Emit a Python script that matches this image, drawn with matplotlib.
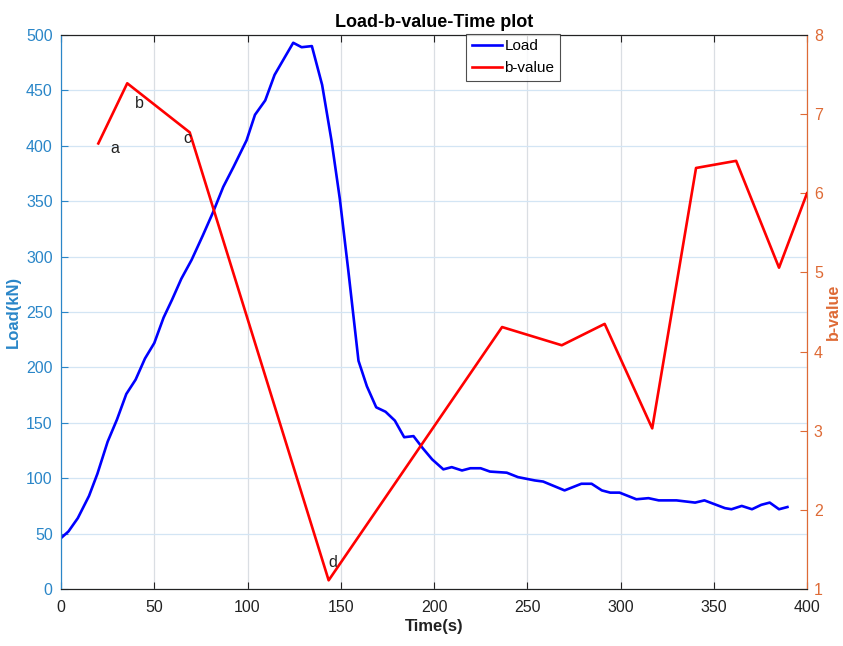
import matplotlib.pyplot as plt

plt.rcParams['font.family'] = ['Liberation Sans', 'DejaVu Sans']

# load curve (kN) over time (s)
load_time = [0, 4, 9, 15, 19.5, 25, 30, 35, 40, 45, 50, 55, 59.5, 64.5, 70, 76, 81.5, 87,
             92.5, 99.5, 104, 109.5, 114.5, 120, 124.5, 129, 134.5, 140, 145, 149.5, 154,
             159.5, 164, 169, 174, 179, 184, 189, 194, 199, 205, 209.5, 215, 219.5, 225,
             230, 239, 245, 254, 258.5, 270, 279, 284.5, 290, 294.5, 299.5, 308.5, 315,
             320.5, 330, 340, 345, 356, 359.5, 365, 370.5, 375.5, 380, 385, 389.5]
load_kn = [46, 52, 64, 84, 104, 133, 153, 176, 189, 208, 222, 245, 261, 280, 297, 319, 340,
           363, 381, 405, 428, 441, 464, 480, 493, 489, 490, 455, 405, 352, 288,
           206, 183, 164, 160, 152, 137, 138, 127, 117, 108, 110, 107, 109, 109,
           106, 105, 101, 98, 97, 89, 95, 95, 89, 87, 87, 81, 82,
           80, 80, 78, 80, 73, 72, 75, 72, 76, 78, 72, 74]

# b-value over time (s)
b_time = [20, 35.5, 69, 143.5, 236.5, 268.5, 291.5, 317, 340.5, 362, 385, 400]
b_value = [6.63, 7.39, 6.77, 1.11, 4.31, 4.08, 4.35, 3.03, 6.32, 6.41, 5.06, 6.0]

# stage labels on the b-value curve
stage_labels = ['a', 'b', 'c', 'd']
stage_x = [29, 42, 68, 145.5]
stage_y = [6.57, 7.13, 6.69, 1.33]

left_color = '#2a86c8'
right_color = '#de6a35'

fig = plt.figure(figsize=(8.43, 6.46), dpi=100)
ax = fig.add_axes([0.0724, 0.0882, 0.8849, 0.8576])
ax2 = ax.twinx()

line_load, = ax.plot(load_time, load_kn, color='#0000ff', linewidth=1.9)
line_b, = ax2.plot(b_time, b_value, color='#ff0000', linewidth=1.9)

ax.set_xlim(0, 400)
ax.set_ylim(0, 500)
ax2.set_ylim(1, 8)
ax.set_xticks(range(0, 401, 50))
ax.set_yticks(range(0, 501, 50))
ax2.set_yticks(range(1, 9))

ax.grid(axis='x', color='#dadee3', linewidth=0.9)
ax.grid(axis='y', color='#d3e5f4', linewidth=0.9)
ax.set_axisbelow(True)

ax.tick_params(axis='x', direction='in', top=True, colors='#222222', labelsize=11.5,
               length=5, pad=8)
ax.tick_params(axis='y', direction='in', colors=left_color, labelsize=11.5, length=5, pad=6)
ax2.tick_params(axis='y', direction='in', colors=right_color, labelsize=11.5, length=5, pad=5)

for a in (ax, ax2):
    a.spines['top'].set_color('#222222')
    a.spines['bottom'].set_color('#222222')
    a.spines['left'].set_color(left_color)
    a.spines['right'].set_color(right_color)

ax.set_xlabel('Time(s)', fontsize=12, fontweight='bold', color='#222222', labelpad=3)
ax.set_ylabel('Load(kN)', fontsize=12, fontweight='bold', color=left_color, labelpad=4)
ax2.set_ylabel('b-value', fontsize=11.5, fontweight='bold', color=right_color, labelpad=2)
ax.set_title('Load-b-value-Time plot', fontsize=13, fontweight='bold', pad=6)

for lab, x, y in zip(stage_labels, stage_x, stage_y):
    ax2.text(x, y, lab, fontsize=11.5, ha='center', va='center', color='#222222')

leg = ax2.legend([line_load, line_b], ['Load', 'b-value'], loc='upper left',
                 bbox_to_anchor=(0.553, 0.948), bbox_transform=fig.transFigure,
                 fontsize=11, frameon=True, fancybox=False, handlelength=2.0,
                 handletextpad=0.15, borderpad=0.35, labelspacing=0.55, borderaxespad=0)
leg.get_frame().set_edgecolor('#222222')
leg.get_frame().set_linewidth(0.8)

plt.savefig('out.png', dpi=100)
